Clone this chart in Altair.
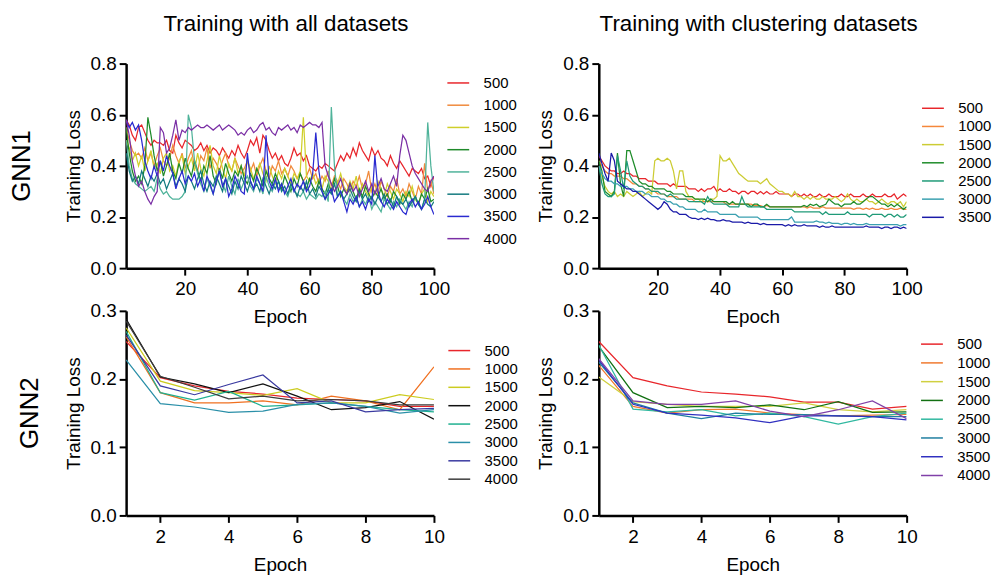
import altair as alt
import pandas as pd

FONT = "Liberation Sans"

labels8 = ["500", "1000", "1500", "2000", "2500", "3000", "3500", "4000"]
labels7 = labels8[:7]
epochs100 = list(range(1, 101))
epochs10 = list(range(1, 11))

# ---------------- GNN1, all datasets ----------------
tl_500 = [0.58,0.56,0.52,0.50,0.55,0.56,0.53,0.50,0.48,0.50,
          0.49,0.49,0.48,0.50,0.46,0.45,0.52,0.49,0.47,0.50,
          0.49,0.48,0.46,0.47,0.49,0.46,0.48,0.45,0.47,0.46,
          0.44,0.47,0.45,0.43,0.46,0.44,0.48,0.45,0.43,0.46,
          0.50,0.48,0.51,0.45,0.52,0.50,0.46,0.43,0.45,0.42,
          0.44,0.41,0.40,0.43,0.47,0.44,0.45,0.42,0.44,0.40,
          0.39,0.38,0.40,0.39,0.41,0.40,0.39,0.38,0.41,0.44,
          0.42,0.45,0.43,0.47,0.44,0.49,0.46,0.44,0.42,0.47,
          0.44,0.46,0.43,0.42,0.40,0.44,0.41,0.39,0.42,0.40,
          0.38,0.36,0.39,0.38,0.37,0.39,0.35,0.36,0.32,0.36]
tl_1000 = [0.55,0.50,0.46,0.44,0.45,0.43,0.47,0.42,0.45,0.40,
           0.44,0.47,0.42,0.40,0.43,0.48,0.44,0.41,0.45,0.39,
           0.43,0.46,0.40,0.38,0.44,0.42,0.47,0.39,0.43,0.41,
           0.38,0.42,0.45,0.40,0.38,0.43,0.40,0.37,0.39,0.42,
           0.38,0.41,0.36,0.40,0.43,0.38,0.35,0.40,0.38,0.42,
           0.37,0.39,0.36,0.40,0.38,0.35,0.37,0.34,0.36,0.39,
           0.35,0.37,0.33,0.36,0.34,0.38,0.32,0.36,0.34,0.31,
           0.35,0.33,0.30,0.34,0.32,0.36,0.31,0.33,0.38,0.30,
           0.33,0.29,0.34,0.31,0.28,0.32,0.30,0.35,0.29,0.31,
           0.28,0.33,0.30,0.27,0.32,0.29,0.41,0.30,0.34,0.29]
tl_1500 = [0.50,0.47,0.42,0.45,0.40,0.44,0.38,0.42,0.46,0.39,
           0.41,0.37,0.43,0.45,0.38,0.40,0.36,0.42,0.44,0.37,
           0.40,0.43,0.38,0.45,0.39,0.36,0.42,0.48,0.40,0.37,
           0.44,0.39,0.35,0.41,0.38,0.43,0.37,0.40,0.36,0.42,
           0.39,0.35,0.38,0.41,0.37,0.34,0.40,0.36,0.33,0.38,
           0.35,0.39,0.36,0.33,0.37,0.35,0.38,0.59,0.36,0.34,
           0.37,0.33,0.35,0.31,0.36,0.34,0.30,0.35,0.33,0.37,
           0.32,0.30,0.34,0.31,0.36,0.29,0.33,0.30,0.28,0.32,
           0.29,0.34,0.31,0.28,0.33,0.30,0.27,0.31,0.29,0.26,
           0.30,0.28,0.32,0.27,0.25,0.29,0.31,0.26,0.30,0.28]
tl_2000 = [0.55,0.45,0.38,0.34,0.36,0.33,0.40,0.59,0.52,0.44,
           0.38,0.42,0.36,0.40,0.45,0.38,0.35,0.41,0.37,0.43,
           0.39,0.36,0.42,0.38,0.34,0.40,0.37,0.44,0.36,0.33,
           0.39,0.35,0.41,0.37,0.34,0.38,0.36,0.40,0.35,0.33,
           0.37,0.34,0.39,0.36,0.32,0.38,0.35,0.33,0.37,0.34,
           0.31,0.36,0.33,0.30,0.35,0.32,0.37,0.34,0.31,0.35,
           0.32,0.30,0.34,0.31,0.29,0.33,0.30,0.35,0.32,0.28,
           0.31,0.29,0.33,0.30,0.27,0.31,0.28,0.32,0.29,0.27,
           0.30,0.28,0.31,0.27,0.29,0.26,0.30,0.28,0.25,0.29,
           0.27,0.30,0.26,0.28,0.25,0.29,0.27,0.31,0.26,0.27]
tl_2500 = [0.50,0.40,0.35,0.33,0.32,0.31,0.30,0.31,0.32,0.30,
           0.35,0.31,0.29,0.30,0.28,0.27,0.27,0.27,0.28,0.30,
           0.60,0.55,0.42,0.37,0.33,0.30,0.35,0.32,0.29,0.34,
           0.38,0.33,0.30,0.36,0.32,0.29,0.35,0.31,0.34,0.36,
           0.32,0.30,0.35,0.33,0.29,0.36,0.32,0.30,0.34,0.31,
           0.33,0.30,0.28,0.32,0.30,0.29,0.28,0.30,0.27,0.29,
           0.28,0.27,0.29,0.28,0.30,0.26,0.63,0.40,0.28,0.30,
           0.27,0.25,0.29,0.26,0.28,0.24,0.27,0.25,0.28,0.23,
           0.26,0.24,0.22,0.27,0.25,0.23,0.26,0.24,0.27,0.25,
           0.23,0.26,0.24,0.28,0.25,0.23,0.27,0.57,0.40,0.30]
tl_3000 = [0.45,0.38,0.34,0.36,0.33,0.38,0.35,0.32,0.36,0.34,
           0.37,0.33,0.35,0.31,0.34,0.37,0.32,0.35,0.33,0.30,
           0.36,0.34,0.31,0.35,0.38,0.33,0.30,0.34,0.32,0.36,
           0.33,0.30,0.35,0.32,0.29,0.34,0.31,0.36,0.33,0.30,
           0.34,0.31,0.33,0.30,0.35,0.32,0.29,0.33,0.31,0.34,
           0.30,0.32,0.29,0.33,0.31,0.28,0.32,0.30,0.34,0.29,
           0.31,0.28,0.32,0.30,0.27,0.31,0.29,0.33,0.28,0.30,
           0.27,0.29,0.31,0.28,0.26,0.30,0.27,0.29,0.26,0.28,
           0.25,0.28,0.26,0.29,0.25,0.27,0.24,0.28,0.26,0.25,
           0.27,0.24,0.26,0.28,0.25,0.23,0.27,0.25,0.24,0.26]
tl_3500 = [0.58,0.55,0.57,0.54,0.56,0.50,0.42,0.38,0.35,0.40,
           0.36,0.42,0.38,0.44,0.40,0.37,0.31,0.35,0.38,0.33,
           0.36,0.34,0.37,0.32,0.35,0.30,0.36,0.33,0.29,0.34,
           0.38,0.32,0.35,0.28,0.31,0.36,0.33,0.30,0.29,0.45,
           0.34,0.31,0.36,0.33,0.30,0.52,0.34,0.31,0.35,0.30,
           0.33,0.29,0.32,0.35,0.30,0.33,0.31,0.34,0.30,0.32,
           0.37,0.53,0.38,0.30,0.27,0.29,0.31,0.26,0.28,0.30,
           0.26,0.22,0.27,0.25,0.28,0.24,0.26,0.23,0.27,0.25,
           0.44,0.30,0.26,0.24,0.27,0.25,0.23,0.26,0.24,0.22,
           0.21,0.25,0.27,0.24,0.26,0.23,0.25,0.28,0.24,0.21]
tl_4000 = [0.58,0.52,0.42,0.36,0.32,0.34,0.30,0.27,0.25,0.28,
           0.30,0.55,0.53,0.45,0.47,0.52,0.58,0.50,0.54,0.53,
           0.55,0.54,0.55,0.56,0.55,0.55,0.56,0.55,0.54,0.55,
           0.56,0.54,0.55,0.56,0.55,0.54,0.52,0.53,0.52,0.54,
           0.55,0.53,0.54,0.56,0.57,0.54,0.55,0.53,0.52,0.55,
           0.54,0.55,0.56,0.54,0.55,0.53,0.56,0.55,0.56,0.57,
           0.56,0.56,0.55,0.57,0.40,0.36,0.33,0.30,0.32,0.35,
           0.31,0.29,0.33,0.30,0.32,0.28,0.31,0.34,0.30,0.33,
           0.29,0.32,0.35,0.31,0.30,0.33,0.36,0.32,0.44,0.52,
           0.50,0.45,0.40,0.37,0.35,0.33,0.31,0.30,0.34,0.36]

# ---------------- GNN1, clustering datasets ----------------
tr_500 = [0.44,0.42,0.40,0.39,0.38,0.38,0.37,0.37,0.38,0.37,
          0.37,0.36,0.36,0.35,0.35,0.35,0.34,0.34,0.34,0.33,
          0.33,0.33,0.33,0.32,0.33,0.32,0.32,0.32,0.32,0.31,
          0.31,0.31,0.30,0.31,0.30,0.31,0.31,0.32,0.30,0.31,
          0.30,0.30,0.31,0.30,0.30,0.29,0.30,0.30,0.29,0.30,
          0.30,0.29,0.30,0.29,0.30,0.29,0.29,0.30,0.29,0.29,
          0.29,0.29,0.28,0.29,0.29,0.28,0.29,0.28,0.29,0.28,
          0.28,0.29,0.28,0.28,0.29,0.28,0.28,0.28,0.29,0.28,
          0.28,0.29,0.28,0.28,0.28,0.29,0.28,0.28,0.29,0.28,
          0.28,0.28,0.29,0.28,0.28,0.29,0.27,0.28,0.29,0.28]
tr_1000 = [0.42,0.40,0.38,0.37,0.37,0.36,0.36,0.36,0.35,0.35,
           0.34,0.33,0.33,0.32,0.32,0.31,0.31,0.30,0.30,0.29,
           0.29,0.29,0.28,0.28,0.28,0.28,0.27,0.27,0.27,0.27,
           0.27,0.26,0.26,0.26,0.26,0.26,0.26,0.26,0.26,0.26,
           0.26,0.25,0.25,0.25,0.25,0.25,0.25,0.25,0.25,0.25,
           0.245,0.245,0.245,0.24,0.245,0.24,0.24,0.24,0.24,0.24,
           0.24,0.24,0.24,0.24,0.24,0.24,0.24,0.235,0.24,0.235,
           0.235,0.235,0.24,0.235,0.235,0.235,0.235,0.235,0.235,0.235,
           0.235,0.235,0.23,0.235,0.235,0.23,0.235,0.23,0.235,0.23,
           0.23,0.235,0.23,0.23,0.235,0.23,0.23,0.235,0.23,0.23]
tr_1500 = [0.40,0.36,0.32,0.30,0.29,0.30,0.28,0.29,0.28,0.30,
           0.29,0.28,0.29,0.30,0.28,0.29,0.30,0.29,0.42,0.43,
           0.42,0.42,0.43,0.42,0.38,0.31,0.38,0.38,0.30,0.28,
           0.28,0.27,0.27,0.26,0.27,0.26,0.27,0.27,0.28,0.44,
           0.42,0.42,0.43,0.41,0.39,0.37,0.36,0.35,0.34,0.34,
           0.34,0.34,0.33,0.34,0.35,0.33,0.32,0.31,0.30,0.30,
           0.29,0.29,0.28,0.30,0.28,0.28,0.27,0.28,0.27,0.28,
           0.27,0.27,0.28,0.27,0.27,0.27,0.28,0.27,0.26,0.27,
           0.29,0.27,0.26,0.27,0.26,0.26,0.27,0.26,0.26,0.25,
           0.26,0.27,0.26,0.25,0.26,0.26,0.25,0.26,0.24,0.26]
tr_2000 = [0.42,0.38,0.30,0.29,0.28,0.30,0.45,0.33,0.28,0.46,
           0.46,0.42,0.38,0.34,0.33,0.33,0.32,0.32,0.31,0.31,
           0.31,0.31,0.30,0.30,0.29,0.29,0.29,0.29,0.28,0.28,
           0.28,0.27,0.27,0.27,0.27,0.26,0.27,0.26,0.26,0.26,
           0.26,0.26,0.25,0.26,0.25,0.25,0.25,0.25,0.25,0.24,
           0.25,0.25,0.24,0.24,0.25,0.24,0.24,0.24,0.24,0.24,
           0.24,0.24,0.24,0.24,0.24,0.24,0.245,0.24,0.25,0.245,
           0.25,0.24,0.245,0.25,0.27,0.26,0.25,0.25,0.24,0.25,
           0.25,0.25,0.26,0.25,0.25,0.26,0.27,0.28,0.28,0.27,
           0.26,0.25,0.25,0.24,0.25,0.24,0.25,0.24,0.23,0.24]
tr_2500 = [0.40,0.33,0.29,0.28,0.28,0.29,0.44,0.38,0.31,0.42,
           0.36,0.34,0.33,0.32,0.32,0.31,0.31,0.30,0.30,0.30,
           0.29,0.29,0.28,0.29,0.28,0.27,0.27,0.27,0.27,0.26,
           0.26,0.26,0.26,0.26,0.25,0.28,0.26,0.25,0.25,0.25,
           0.25,0.25,0.24,0.24,0.24,0.24,0.28,0.25,0.24,0.24,
           0.24,0.24,0.24,0.24,0.23,0.23,0.23,0.23,0.23,0.23,
           0.23,0.23,0.23,0.22,0.22,0.22,0.22,0.22,0.22,0.22,
           0.22,0.22,0.21,0.22,0.21,0.21,0.21,0.21,0.21,0.21,
           0.22,0.21,0.21,0.21,0.21,0.21,0.21,0.20,0.21,0.21,
           0.21,0.21,0.20,0.21,0.21,0.20,0.21,0.20,0.20,0.21]
tr_3000 = [0.40,0.37,0.35,0.34,0.34,0.33,0.33,0.32,0.32,0.32,
           0.31,0.31,0.30,0.30,0.30,0.29,0.29,0.28,0.28,0.28,
           0.27,0.27,0.26,0.26,0.25,0.25,0.24,0.24,0.23,0.23,
           0.23,0.23,0.22,0.22,0.23,0.22,0.22,0.22,0.22,0.21,
           0.21,0.21,0.21,0.21,0.21,0.20,0.20,0.20,0.20,0.20,
           0.20,0.20,0.19,0.19,0.19,0.19,0.19,0.19,0.19,0.19,
           0.19,0.19,0.20,0.18,0.18,0.18,0.18,0.18,0.18,0.18,
           0.185,0.18,0.18,0.175,0.18,0.175,0.175,0.175,0.17,0.175,
           0.175,0.17,0.175,0.17,0.17,0.17,0.175,0.17,0.17,0.17,
           0.17,0.17,0.17,0.17,0.17,0.17,0.17,0.165,0.17,0.17]
tr_3500 = [0.45,0.41,0.37,0.34,0.45,0.42,0.34,0.33,0.32,0.31,
           0.31,0.30,0.30,0.29,0.28,0.27,0.26,0.25,0.24,0.23,
           0.24,0.26,0.25,0.23,0.22,0.22,0.21,0.21,0.21,0.20,
           0.195,0.195,0.19,0.195,0.19,0.195,0.19,0.19,0.185,0.185,
           0.19,0.185,0.185,0.18,0.18,0.18,0.18,0.175,0.18,0.175,
           0.175,0.175,0.17,0.175,0.17,0.17,0.17,0.17,0.17,0.17,
           0.165,0.17,0.165,0.17,0.165,0.165,0.17,0.165,0.165,0.165,
           0.165,0.16,0.165,0.16,0.16,0.165,0.16,0.16,0.16,0.16,
           0.16,0.16,0.16,0.16,0.16,0.16,0.165,0.16,0.16,0.16,
           0.16,0.155,0.16,0.16,0.155,0.16,0.16,0.155,0.16,0.155]

# ---------------- GNN2, all datasets ----------------
bl_500 = [0.255, 0.202, 0.190, 0.182, 0.178, 0.172, 0.170, 0.168, 0.160, 0.160]
bl_1000 = [0.262, 0.180, 0.165, 0.165, 0.168, 0.162, 0.175, 0.168, 0.155, 0.218]
bl_1500 = [0.275, 0.197, 0.183, 0.180, 0.176, 0.186, 0.165, 0.165, 0.177, 0.170]
bl_2000 = [0.288, 0.203, 0.193, 0.180, 0.193, 0.175, 0.155, 0.158, 0.167, 0.141]
bl_2500 = [0.270, 0.180, 0.169, 0.182, 0.160, 0.162, 0.165, 0.160, 0.155, 0.152]
bl_3000 = [0.228, 0.164, 0.159, 0.151, 0.153, 0.163, 0.165, 0.160, 0.150, 0.155]
bl_3500 = [0.265, 0.190, 0.177, 0.192, 0.206, 0.165, 0.168, 0.152, 0.155, 0.157]
bl_4000 = [0.285, 0.204, 0.188, 0.171, 0.175, 0.168, 0.170, 0.168, 0.162, 0.162]

# ---------------- GNN2, clustering datasets ----------------
br_500 = [0.255, 0.202, 0.190, 0.181, 0.178, 0.174, 0.166, 0.166, 0.156, 0.160]
br_1000 = [0.220, 0.160, 0.150, 0.155, 0.156, 0.150, 0.148, 0.146, 0.147, 0.148]
br_1500 = [0.203, 0.167, 0.163, 0.160, 0.160, 0.160, 0.165, 0.155, 0.152, 0.155]
br_2000 = [0.248, 0.180, 0.158, 0.160, 0.158, 0.162, 0.155, 0.167, 0.151, 0.152]
br_2500 = [0.250, 0.156, 0.152, 0.155, 0.146, 0.150, 0.145, 0.134, 0.145, 0.150]
br_3000 = [0.225, 0.165, 0.150, 0.142, 0.150, 0.148, 0.148, 0.146, 0.145, 0.145]
br_3500 = [0.228, 0.163, 0.150, 0.147, 0.143, 0.136, 0.146, 0.146, 0.145, 0.140]
br_4000 = [0.230, 0.168, 0.163, 0.163, 0.168, 0.153, 0.145, 0.155, 0.168, 0.142]

tl_colors = ["#e8262b", "#f08a3c", "#cfcf2a", "#1f8a2a", "#4fb39a", "#137a7f", "#2a2ad0", "#7a2fa5"]
tr_colors = ["#e8262b", "#f5873a", "#cccc33", "#1e8c2a", "#1f9a78", "#3aa0b0", "#1a1aa8"]
bl_colors = ["#e8262b", "#f07020", "#cccc20", "#111111", "#20b090", "#2a8fa8", "#3a3aa0", "#3c3c3c"]
br_colors = ["#e8262b", "#f07a30", "#d0d040", "#127012", "#30b8a0", "#1f7fa0", "#3030c0", "#8040a8"]


def long_df(labels, series, epochs):
    rows = []
    for lab, vals in zip(labels, series):
        for e, v in zip(epochs, vals):
            rows.append({"epoch": e, "loss": v, "series": lab})
    return pd.DataFrame(rows)


W, H = 310, 206


def panel(df, labels, colors, xdom, xticks, ydom, yticks, lx, ly, rowpad,
          title=None, rowlabel=None, rl_x=-105):
    lines = alt.Chart(df).mark_line(strokeWidth=1.25, clip=True).encode(
        x=alt.X("epoch:Q", scale=alt.Scale(domain=xdom, nice=False, zero=False),
                axis=alt.Axis(values=xticks, format="d", title="Epoch")),
        y=alt.Y("loss:Q", scale=alt.Scale(domain=ydom, nice=False, zero=False),
                axis=alt.Axis(values=yticks, format=".1f", title="Training Loss")),
        color=alt.Color("series:N", sort=labels,
                        scale=alt.Scale(domain=labels, range=colors),
                        legend=alt.Legend(orient="none", legendX=lx, legendY=ly, title=None,
                                          symbolType="M-1.833,0H1.833", symbolSize=144,
                                          symbolStrokeWidth=1.5, labelFontSize=15,
                                          labelFont=FONT, labelColor="black",
                                          labelOffset=18, rowPadding=rowpad, padding=0)),
    )
    layers = [lines]
    if rowlabel is not None:
        txt = alt.Chart(pd.DataFrame({"t": [rowlabel]})).mark_text(
            angle=270, fontSize=26, font=FONT, align="center", baseline="middle", color="black"
        ).encode(text="t:N", x=alt.value(rl_x), y=alt.value(H / 2))
        layers.append(txt)
    ch = alt.layer(*layers).properties(width=W, height=H)
    if title is not None:
        ch = ch.properties(title=alt.TitleParams(title, fontSize=22.5, font=FONT, fontWeight="normal",
                                                 anchor="middle", offset=19, dx=6, color="black"))
    return ch


tl = panel(long_df(labels8, [tl_500, tl_1000, tl_1500, tl_2000, tl_2500, tl_3000, tl_3500, tl_4000], epochs100),
           labels8, tl_colors, [1, 100], [20, 40, 60, 80, 100], [0, 0.8], [0, 0.2, 0.4, 0.6, 0.8],
           327, 12, 6.4, title="Training with all datasets", rowlabel="GNN1")
tr = panel(long_df(labels7, [tr_500, tr_1000, tr_1500, tr_2000, tr_2500, tr_3000, tr_3500], epochs100),
           labels7, tr_colors, [1, 100], [20, 40, 60, 80, 100], [0, 0.8], [0, 0.2, 0.4, 0.6, 0.8],
           329, 37.5, 2.3, title="Training with clustering datasets")
bl = panel(long_df(labels8, [bl_500, bl_1000, bl_1500, bl_2000, bl_2500, bl_3000, bl_3500, bl_4000], epochs10),
           labels8, bl_colors, [1, 10], [2, 4, 6, 8, 10], [0, 0.3], [0, 0.1, 0.2, 0.3],
           328, 32.5, 2.5, rowlabel="GNN2", rl_x=-97)
br = panel(long_df(labels8, [br_500, br_1000, br_1500, br_2000, br_2500, br_3000, br_3500, br_4000], epochs10),
           labels8, br_colors, [1, 10], [2, 4, 6, 8, 10], [0, 0.3], [0, 0.1, 0.2, 0.3],
           328, 26, 2.9)

chart = alt.concat(tl, tr, bl, br, columns=2, spacing={"row": 43, "column": 166}, bounds="flush").resolve_scale(
    color="independent", x="independent", y="independent"
).resolve_legend(color="independent").properties(
    padding={"left": 9, "top": 11, "right": 5, "bottom": 5}
).configure_view(stroke=None).configure_axis(
    domainColor="black", domainWidth=2.5, tickColor="black", tickWidth=2, tickSize=7,
    labelFontSize=19, labelFont=FONT, labelColor="black", labelPadding=3,
    titleFontSize=19, titleFont=FONT, titleFontWeight="normal", titleColor="black",
    grid=False, labelFlush=False
).configure_axisX(titlePadding=9, labelPadding=5).configure_axisY(titlePadding=7)

chart.save("out.html", embed_options={"renderer": "svg", "actions": False})
